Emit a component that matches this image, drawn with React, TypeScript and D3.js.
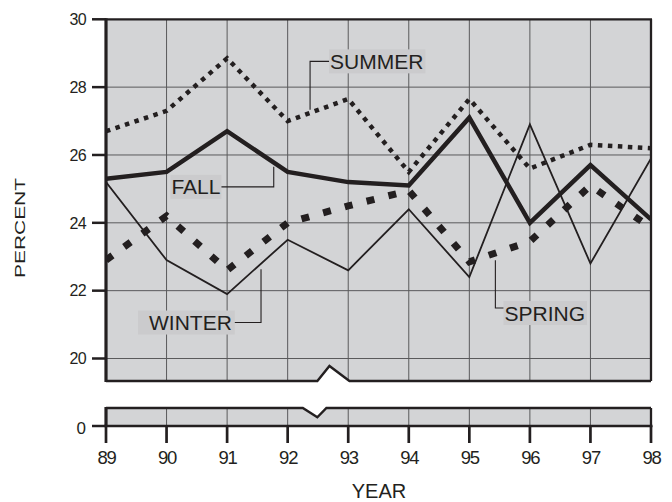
import React, { useEffect, useRef } from "react";
import * as d3 from "d3";

const years = [89, 90, 91, 92, 93, 94, 95, 96, 97, 98];
const summer = [26.7, 27.3, 28.85, 27.0, 27.65, 25.5, 27.65, 25.6, 26.3, 26.2];
const fall = [25.3, 25.5, 26.7, 25.5, 25.2, 25.1, 27.1, 24.0, 25.7, 24.1];
const winter = [25.2, 22.9, 21.9, 23.5, 22.6, 24.4, 22.4, 26.9, 22.8, 25.9];
const spring = [22.9, 24.2, 22.6, 24.0, 24.5, 24.95, 22.85, 23.45, 25.1, 23.85];
const yTicks = [20, 22, 24, 26, 28, 30];
const xTickLabels = ["89", "90", "91", "92", "93", "94", "95", "96", "97", "98"];

// annotations in data coordinates: text anchor, elbow year, end value
const annotations = [
  { name: "SUMMER", textYear: 92.7, textValue: 28.76, side: "left", elbowYear: 92.37, endValue: 27.33, padL: 1, padR: 2 },
  { name: "FALL", textYear: 90.08, textValue: 25.06, side: "right", elbowYear: 91.77, endValue: 25.65, padL: 1, padR: 1 },
  { name: "WINTER", textYear: 89.71, textValue: 21.06, side: "right", elbowYear: 91.56, endValue: 22.63, padL: 11, padR: 3 },
  { name: "SPRING", textYear: 95.58, textValue: 21.34, side: "left", elbowYear: 95.43, endValue: 22.9, padL: 1, padR: 2, leaderOffset: -5 },
];

const INK = "#231f20";
const GRID = "#5a5a5c";
const BG = "#d3d4d6";
const BOX = "#cbcbcd";
const FONT = "'Liberation Sans', Arial, sans-serif";

export default function App() {
  const ref = useRef<SVGSVGElement>(null);

  useEffect(() => {
    const svg = d3.select(ref.current);
    svg.selectAll("*").remove();

    const x = d3.scaleLinear().domain([89, 98]).range([106, 651]);
    const y = d3.scaleLinear().domain([20, 30]).range([358.5, 19.3]);
    const upperBottom = 381;
    const lowerTop = 408;
    const yZero = 426;

    // upper panel polygon with break notch
    const upperPts: [number, number][] = [
      [x(89), y(30)], [x(98), y(30)], [x(98), upperBottom],
      [x(93.02), upperBottom], [x(92.69), 366], [x(92.49), upperBottom],
      [x(89), upperBottom],
    ];
    const defs = svg.append("defs");
    defs.append("clipPath").attr("id", "upclip")
      .append("polygon").attr("points", upperPts.map(p => p.join(",")).join(" "));

    svg.append("polygon").attr("points", upperPts.map(p => p.join(",")).join(" "))
      .attr("fill", BG);

    const gridG = svg.append("g").attr("clip-path", "url(#upclip)");
    gridG.selectAll("line.h").data(yTicks.filter(t => t < 30)).join("line")
      .attr("x1", x(89)).attr("x2", x(98))
      .attr("y1", d => y(d)).attr("y2", d => y(d))
      .attr("stroke", GRID).attr("stroke-width", 1);
    gridG.selectAll("line.v").data(years.slice(1, -1)).join("line")
      .attr("x1", d => x(d)).attr("x2", d => x(d))
      .attr("y1", y(30)).attr("y2", upperBottom)
      .attr("stroke", GRID).attr("stroke-width", 1);

    // lower panel
    const lowerPts: [number, number][] = [
      [x(89), yZero], [x(89), lowerTop], [x(92.25), lowerTop], [x(92.49), 417.3],
      [x(92.64), lowerTop], [x(98), lowerTop], [x(98), yZero],
    ];
    svg.append("polygon").attr("points", lowerPts.map(p => p.join(",")).join(" "))
      .attr("fill", BG);
    svg.selectAll("line.lv").data(years.slice(1, -1)).join("line")
      .attr("x1", d => x(d)).attr("x2", d => x(d))
      .attr("y1", lowerTop).attr("y2", yZero)
      .attr("stroke", GRID).attr("stroke-width", 1);

    // series
    const line = d3.line<number>().x((_, i) => x(years[i])).y(d => y(d));
    const series = [
      { data: winter, w: 1.8, dash: null },
      { data: summer, w: 4.5, dash: "4.5 5.5" },
      { data: spring, w: 7, dash: "8 14.5" },
      { data: fall, w: 4.5, dash: null },
    ];
    const serG = svg.append("g").attr("clip-path", "url(#upclip)");
    series.forEach(s => {
      serG.append("path").attr("d", line(s.data) as string)
        .attr("fill", "none").attr("stroke", INK)
        .attr("stroke-width", s.w)
        .attr("stroke-linejoin", "miter")
        .attr("stroke-dasharray", s.dash as any);
    });

    // borders
    const upperEdge = upperPts.slice(2).concat([[x(89), upperBottom]]);
    svg.append("polyline")
      .attr("points", [[x(98), upperBottom], [x(93.02), upperBottom], [x(92.69), 366], [x(92.49), upperBottom], [x(89), upperBottom]].map(p => p.join(",")).join(" "))
      .attr("fill", "none").attr("stroke", INK).attr("stroke-width", 2.4);
    svg.append("polyline")
      .attr("points", [[x(89), lowerTop], [x(92.25), lowerTop], [x(92.49), 417.3], [x(92.64), lowerTop], [x(98), lowerTop]].map(p => p.join(",")).join(" "))
      .attr("fill", "none").attr("stroke", INK).attr("stroke-width", 2.4);
    svg.append("line").attr("x1", x(89)).attr("x2", x(98) + 1).attr("y1", y(30)).attr("y2", y(30))
      .attr("stroke", INK).attr("stroke-width", 2.2);
    svg.append("line").attr("x1", x(98)).attr("x2", x(98)).attr("y1", y(30)).attr("y2", upperBottom)
      .attr("stroke", INK).attr("stroke-width", 2.3);
    svg.append("line").attr("x1", x(98)).attr("x2", x(98)).attr("y1", lowerTop).attr("y2", yZero)
      .attr("stroke", INK).attr("stroke-width", 2.3);
    svg.append("line").attr("x1", x(89)).attr("x2", x(89)).attr("y1", y(30) - 1).attr("y2", upperBottom + 1)
      .attr("stroke", INK).attr("stroke-width", 3.2);
    svg.append("line").attr("x1", x(89)).attr("x2", x(89)).attr("y1", lowerTop - 1).attr("y2", yZero)
      .attr("stroke", INK).attr("stroke-width", 3.2);
    svg.append("line").attr("x1", x(89) - 1.5).attr("x2", x(98) + 1.5).attr("y1", yZero).attr("y2", yZero)
      .attr("stroke", INK).attr("stroke-width", 2.6);

    // y ticks
    svg.selectAll("line.yt").data(yTicks).join("line")
      .attr("x1", 92).attr("x2", x(89)).attr("y1", d => y(d)).attr("y2", d => y(d))
      .attr("stroke", INK).attr("stroke-width", 2.5);
    svg.append("line").attr("x1", 92).attr("x2", x(89)).attr("y1", yZero).attr("y2", yZero)
      .attr("stroke", INK).attr("stroke-width", 2.5);
    svg.selectAll("text.yl").data(yTicks).join("text")
      .attr("x", 86).attr("y", d => y(d) + 5.8)
      .attr("text-anchor", "end").attr("font-family", FONT).attr("font-size", 16)
      .attr("letter-spacing", -0.6).attr("fill", INK)
      .text(d => String(d));
    svg.append("text").attr("x", 86).attr("y", yZero + 7.8)
      .attr("text-anchor", "end").attr("font-family", FONT).attr("font-size", 17)
      .attr("fill", INK).text("0");

    // x ticks
    svg.selectAll("line.xt").data(years).join("line")
      .attr("x1", d => x(d)).attr("x2", d => x(d)).attr("y1", yZero).attr("y2", 443)
      .attr("stroke", INK).attr("stroke-width", 2.7);
    svg.selectAll("text.xl").data(years).join("text")
      .attr("x", d => x(d) + 0.5).attr("y", 464)
      .attr("text-anchor", "middle").attr("font-family", FONT).attr("font-size", 18.5)
      .attr("letter-spacing", -1.2).attr("fill", INK)
      .text((_, i) => xTickLabels[i]);

    // axis titles
    svg.append("text").attr("x", 379).attr("y", 498)
      .attr("text-anchor", "middle").attr("font-family", FONT).attr("font-size", 20)
      .attr("fill", INK).text("YEAR");
    svg.append("text").attr("transform", "translate(25,228) rotate(-90)")
      .attr("text-anchor", "middle").attr("font-family", FONT).attr("font-size", 14)
      .attr("textLength", 100).attr("lengthAdjust", "spacingAndGlyphs")
      .attr("fill", INK).text("PERCENT");

    // annotations
    const fs = 21;
    annotations.forEach(a => {
      const g = svg.append("g");
      const tx = x(a.textYear);
      const cy = y(a.textValue);
      const rect = g.append("rect").attr("fill", BOX);
      const leader = g.append("polyline").attr("fill", "none").attr("stroke", INK).attr("stroke-width", 1.1);
      const t = g.append("text").attr("x", tx).attr("y", cy + fs * 0.358)
        .attr("font-family", FONT).attr("font-size", fs).attr("fill", INK).text(a.name);
      const bb = (t.node() as SVGTextElement).getBBox();
      const bx0 = bb.x - a.padL;
      const bx1 = bb.x + bb.width + a.padR;
      rect.attr("x", bx0).attr("y", cy - 12).attr("width", bx1 - bx0).attr("height", 24);
      const ly = cy + (a.leaderOffset || 0);
      const startX = a.side === "left" ? bx0 : bx1;
      const ex = x(a.elbowYear);
      leader.attr("points", [[startX, ly], [ex, ly], [ex, y(a.endValue)]].map(p => p.join(",")).join(" "));
    });
  }, []);

  return (
    <svg ref={ref} width={672} height={502} style={{ position: "absolute", left: 0, top: 0 }} />
  );
}
